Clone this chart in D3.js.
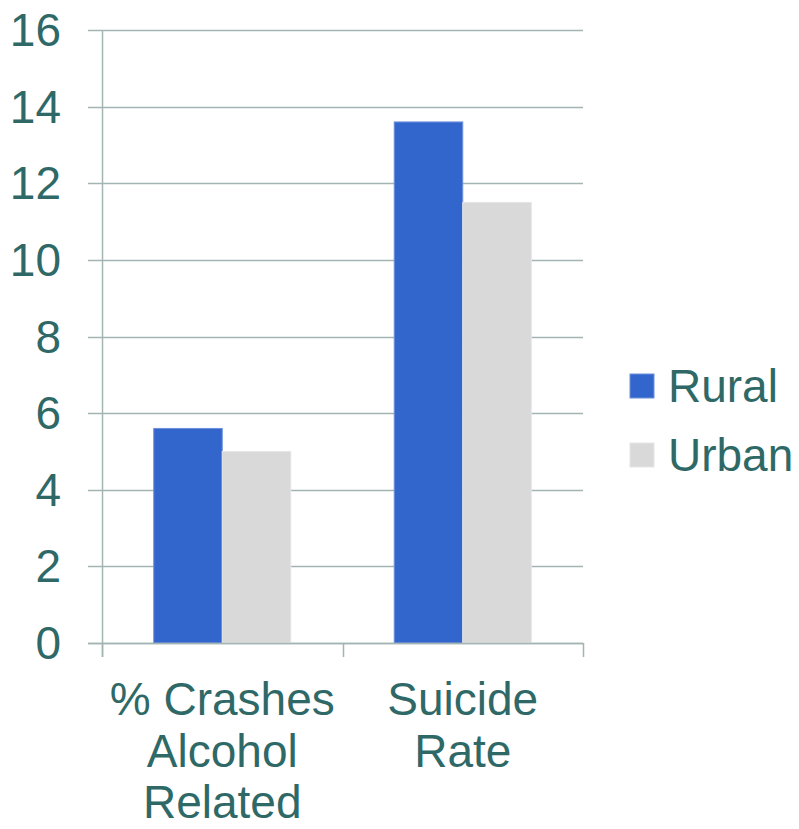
<!DOCTYPE html>
<html>
<head>
<meta charset="utf-8">
<script src="https://cdn.jsdelivr.net/npm/d3@7"></script>
<style>
  html, body { margin: 0; padding: 0; background: #ffffff; }
  svg { display: block; font-family: "Liberation Sans", Arial, sans-serif; }
</style>
</head>
<body>
<svg id="chart" width="799" height="829"></svg>
<script>
// Rural vs urban comparison
const categories = [["% Crashes", "Alcohol", "Related"], ["Suicide", "Rate"]];
const categoryKeys = ["crashes", "suicide"];
const seriesNames = ["Rural", "Urban"];
const ruralValues = [5.6, 13.6];
const urbanValues = [5.0, 11.5];
const yTicks = [0, 2, 4, 6, 8, 10, 12, 14, 16];

const seriesColors = ["#3366cc", "#d9d9d9"];
const seriesStrokes = ["#6d90dc", "#e6e6e6"];
const textColor = "#2f6967";
const gridColor = "#a2b5b3";

const svg = d3.select("#chart");

const plot = { left: 102, right: 583, top: 30, bottom: 643 };

const y = d3.scaleLinear().domain([0, 16]).range([plot.bottom, plot.top]);
const x0 = d3.scaleBand().domain(categoryKeys).range([plot.left, plot.right]).padding(0);
const x1 = d3.scaleBand().domain(seriesNames).range([0, x0.bandwidth()])
  .paddingInner(0).paddingOuter(0.755);

const data = categoryKeys.map((k, i) => ({
  key: k,
  values: [ruralValues[i], urbanValues[i]]
}));

// horizontal gridlines with left tick stubs
svg.append("g")
  .selectAll("line")
  .data(yTicks)
  .join("line")
  .attr("x1", plot.left - 14)
  .attr("x2", plot.right)
  .attr("y1", d => Math.round(y(d)) + 0.5)
  .attr("y2", d => Math.round(y(d)) + 0.5)
  .attr("stroke", gridColor)
  .attr("stroke-width", 1.5);

// y axis line
svg.append("line")
  .attr("x1", plot.left + 0.5).attr("x2", plot.left + 0.5)
  .attr("y1", plot.top).attr("y2", plot.bottom + 14)
  .attr("stroke", gridColor).attr("stroke-width", 1.5);

// category tick marks below the baseline
svg.append("g")
  .selectAll("line")
  .data([...categoryKeys.map(k => x0(k)), plot.right])
  .join("line")
  .attr("x1", d => Math.round(d) + 0.5)
  .attr("x2", d => Math.round(d) + 0.5)
  .attr("y1", plot.bottom)
  .attr("y2", plot.bottom + 14)
  .attr("stroke", gridColor)
  .attr("stroke-width", 1.5);

// bars
const groups = svg.append("g")
  .selectAll("g")
  .data(data)
  .join("g")
  .attr("transform", d => `translate(${x0(d.key)},0)`);

groups.selectAll("rect")
  .data(d => d.values.map((v, i) => ({ name: seriesNames[i], value: v, i })))
  .join("rect")
  .attr("x", d => x1(d.name))
  .attr("width", x1.bandwidth())
  .attr("y", d => y(d.value))
  .attr("height", d => y(0) - y(d.value))
  .attr("fill", d => seriesColors[d.i])
  .attr("stroke", d => seriesStrokes[d.i])
  .attr("stroke-width", 1);

// baseline redrawn above bars
svg.append("line")
  .attr("x1", plot.left - 14).attr("x2", plot.right)
  .attr("y1", Math.round(y(0)) + 0.5).attr("y2", Math.round(y(0)) + 0.5)
  .attr("stroke", gridColor).attr("stroke-width", 1.5);

// y tick labels
svg.append("g")
  .selectAll("text")
  .data(yTicks)
  .join("text")
  .attr("x", 61)
  .attr("y", d => y(d))
  .attr("dy", "0.35em")
  .attr("text-anchor", "end")
  .attr("font-size", 46)
  .attr("fill", textColor)
  .text(d => d);

// category labels
const catLabels = svg.append("g")
  .selectAll("text")
  .data(categoryKeys)
  .join("text")
  .attr("text-anchor", "middle")
  .attr("font-size", 46)
  .attr("fill", textColor);

catLabels.selectAll("tspan")
  .data((k, i) => categories[i].map((line, j) => ({ line, j, k })))
  .join("tspan")
  .attr("x", d => x0(d.k) + x0.bandwidth() / 2)
  .attr("y", d => 715 + d.j * 51.5)
  .text(d => d.line);

// legend
const legend = svg.append("g")
  .selectAll("g")
  .data(seriesNames)
  .join("g")
  .attr("transform", (d, i) => `translate(630,${374 + i * 69})`);

legend.append("rect")
  .attr("width", 24)
  .attr("height", 24)
  .attr("fill", (d, i) => seriesColors[i])
  .attr("stroke", (d, i) => seriesStrokes[i])
  .attr("stroke-width", 1);

legend.append("text")
  .attr("x", 38)
  .attr("y", 28)
  .attr("font-size", 46)
  .attr("fill", textColor)
  .text(d => d);
</script>
</body>
</html>
